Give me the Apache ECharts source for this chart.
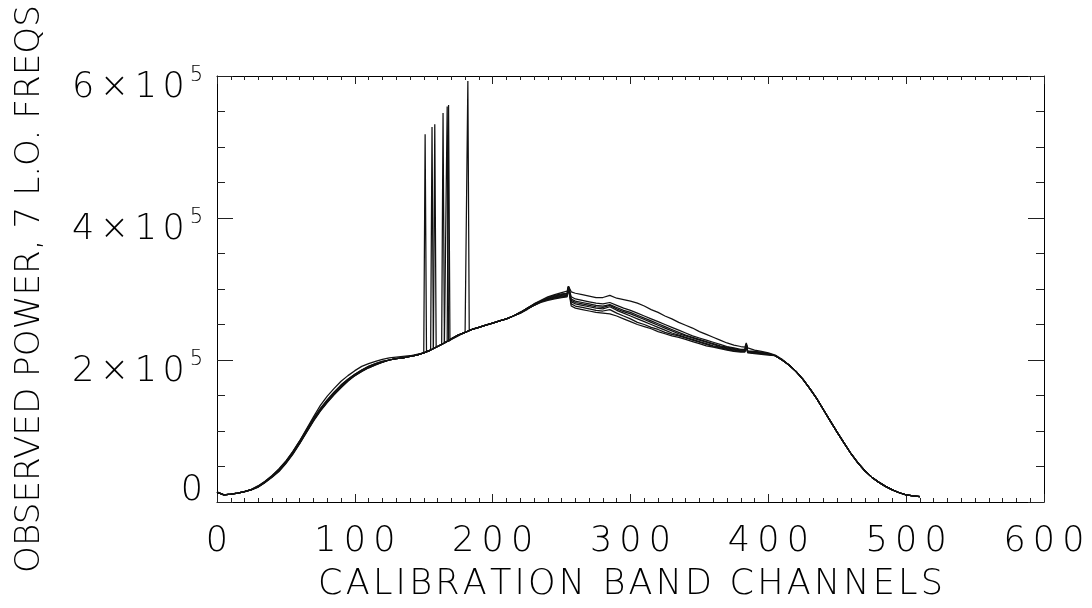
<!DOCTYPE html>
<html>
<head>
<meta charset="utf-8">
<script src="https://cdn.jsdelivr.net/npm/echarts@6/dist/echarts.min.js"></script>
<style>
  html, body { margin: 0; padding: 0; background: #fff; }
  #chart { width: 1092px; height: 608px; }
</style>
</head>
<body>
<div id="chart"></div>
<script>
// Calibration band: observed power (thousands) sampled every 5 channels, 0..510,
// one curve per local-oscillator frequency.
const channels = Array.from({ length: 103 }, (_, i) => i * 5);

const powerA = [
  14, 10, 11, 12.5, 14.5, 18, 23, 29.5, 37.5, 47, 58, 71, 86,
  103, 120, 136, 149, 160, 170, 178, 185, 191, 195, 198, 201, 203, 204, 205, 206, 208,
  210, 214, 219, 224, 229, 234, 239, 243, 246, 249, 252, 255, 258, 262, 267, 273, 279, 284, 289, 292, 295,
  304, 294, 292, 290, 288, 288, 291, 287, 285, 283, 280, 276, 271, 267, 262, 258, 253, 249, 245, 240, 236, 232, 228, 224, 221, 219, 217, 214, 212, 210,
  207, 201, 193, 184, 173, 160, 146, 130, 114, 98, 83, 68, 55, 44, 35, 28, 22, 17, 13, 10, 8.5, 7.5
];
const powerB = [
  14, 10, 11, 12.5, 14.5, 17.5, 22, 28.5, 36.5, 45.5, 57, 70, 85,
  101, 117, 131, 143, 154, 164, 173, 180, 186, 191, 195, 198, 200, 202, 203, 205, 207,
  210, 214, 219, 224, 230, 235, 239, 243, 246, 249, 252, 255, 258, 262, 267, 273, 279, 283, 288, 291, 293,
  304, 286, 284, 282, 280, 279, 281, 277, 273, 270, 266, 262, 258, 254, 250, 246, 242, 238, 234, 231, 228, 225, 222, 219, 217, 215, 213, 212, 211, 209,
  206, 200, 193, 184, 173, 160, 146, 130, 114, 98, 83, 68, 55, 44, 35, 28, 22, 17, 13, 10, 8.5, 7.5
];
const powerC = [
  14, 10, 11, 12.5, 14.5, 17.5, 22, 28.5, 36, 45, 56, 69, 84,
  100, 116, 130, 142, 153, 163, 172, 179, 185, 190, 194, 197, 200, 202, 203, 205, 207,
  210, 214, 219, 224, 230, 235, 239, 243, 246, 249, 252, 255, 258, 262, 267, 273, 278, 283, 287, 290, 292,
  303, 283, 281, 279, 277, 276, 278, 274, 270, 267, 263, 259, 255, 251, 247, 243, 239, 235, 232, 229, 226, 223, 220, 218, 216, 214, 212, 211, 210, 209,
  206, 200, 193, 184, 173, 160, 146, 130, 114, 98, 83, 68, 55, 44, 35, 28, 22, 17, 13, 10, 8.5, 7.5
];
const powerD = [
  14, 10, 11, 12.5, 14.5, 17.5, 21.5, 28, 35.5, 44, 55, 68, 83,
  99, 115, 129, 141, 152, 162, 171, 178, 184, 189, 193, 197, 200, 202, 203, 205, 207,
  210, 214, 219, 224, 230, 235, 239, 243, 246, 249, 252, 255, 258, 262, 267, 272, 278, 282, 286, 289, 291,
  303, 281, 279, 277, 275, 274, 277, 272, 268, 265, 261, 257, 253, 249, 245, 241, 237, 234, 231, 228, 225, 222, 219, 217, 215, 213, 212, 211, 210, 209,
  206, 200, 193, 184, 173, 160, 146, 130, 114, 98, 83, 68, 55, 44, 35, 28, 22, 17, 13, 10, 8.5, 7.5
];
const powerE = [
  14, 10, 11, 12.5, 14.5, 17, 21, 27.5, 35, 43, 54, 67, 82,
  98, 114, 128, 140, 151, 161, 170, 178, 184, 189, 193, 197, 200, 202, 203, 205, 207,
  210, 214, 219, 224, 230, 235, 239, 243, 246, 249, 252, 255, 258, 262, 266, 272, 277, 282, 286, 288, 290,
  302, 279, 277, 275, 273, 272, 275, 270, 266, 262, 258, 254, 250, 246, 242, 238, 235, 232, 229, 226, 223, 220, 218, 216, 214, 212, 211, 210, 209, 208,
  206, 200, 193, 184, 173, 160, 146, 130, 114, 98, 83, 68, 55, 44, 35, 28, 22, 17, 13, 10, 8.5, 7.5
];
const powerF = [
  14, 10, 11, 12.5, 14.5, 17.5, 22.5, 29, 37, 46, 57, 71, 86,
  102, 118, 132, 144, 155, 165, 173, 180, 186, 191, 195, 198, 200, 202, 203, 205, 207,
  210, 214, 219, 224, 230, 235, 239, 243, 246, 249, 252, 255, 258, 262, 266, 272, 277, 282, 285, 287, 289,
  301, 276, 274, 272, 270, 269, 271, 266, 262, 258, 253, 250, 246, 243, 239, 236, 234, 231, 228, 225, 222, 219, 217, 215, 213, 212, 211, 210, 209, 208,
  206, 200, 193, 184, 173, 160, 146, 130, 114, 98, 83, 68, 55, 44, 35, 28, 22, 17, 13, 10, 8.5, 7.5
];
const powerG = [
  14, 10, 11, 12.5, 14.5, 17.5, 21.5, 28, 35.5, 44.5, 55, 68, 83,
  99, 115, 129, 141, 152, 162, 171, 179, 185, 190, 194, 197, 200, 202, 203, 205, 207,
  210, 214, 219, 224, 230, 235, 239, 243, 246, 249, 252, 255, 258, 262, 266, 271, 277, 281, 284, 286, 288,
  300, 273, 271, 269, 267, 266, 265, 262, 258, 254, 250, 247, 244, 240, 237, 234, 232, 229, 226, 223, 220, 218, 216, 214, 212, 211, 210, 209, 208, 207,
  206, 200, 193, 184, 173, 160, 146, 130, 114, 98, 83, 68, 55, 44, 35, 28, 22, 17, 13, 10, 8.5, 7.5
];

// Single-channel features between the 5-channel samples: [channel, power (thousands)].
const extraA = [[181, 240], [182, 593], [183, 242], [254, 297], [256, 304], [257, 296], [383, 218], [384, 224]];
const extraB = [[151, 518], [152, 212], [254, 294], [256, 304], [257, 289], [383, 215], [384, 223]];
const extraC = [[156, 528], [157, 216], [254, 293], [256, 303], [257, 286], [383, 214], [384, 222]];
const extraD = [[157, 216], [158, 532], [159, 218], [254, 292], [256, 303], [257, 284], [383, 213], [384, 222]];
const extraE = [[163, 222], [164, 548], [254, 291], [256, 302], [257, 282], [383, 212], [384, 221]];
const extraF = [[166, 225], [167, 557], [168, 226], [254, 290], [256, 301], [257, 279], [383, 212], [384, 221]];
const extraG = [[167, 226], [168, 559], [169, 228], [254, 289], [256, 300], [257, 276], [383, 211], [384, 220]];

const curves = [
  [powerA, extraA], [powerB, extraB], [powerC, extraC], [powerD, extraD],
  [powerE, extraE], [powerF, extraF], [powerG, extraG]
];

const xTicks = [0, 100, 200, 300, 400, 500, 600];
const yTicks = [0, 200000, 400000, 600000];
const xTitle = 'CALIBRATION BAND CHANNELS';
const yTitle = 'OBSERVED POWER, 7 L.O. FREQS';

function curvePoints(values, extras) {
  const pts = channels.map((c, i) => [c, values[i] * 1000]);
  extras.forEach(([c, v]) => pts.push([c, v * 1000]));
  pts.sort((a, b) => a[0] - b[0]);
  return pts;
}

// One rich-text token per character so the lettering can be spaced out wide.
function spaced(text, token) {
  return text.split('').map(ch => '{' + token + '|' + ch + '}').join('');
}

const FONT = 'DejaVu Sans';
const tickStyle = { color: '#222', width: 1 };
const glyph = { fontFamily: FONT, fontWeight: 200, color: '#000' };

const series = curves.map(([vals, ext], i) => ({
  name: 'LO ' + (i + 1),
  type: 'line',
  data: curvePoints(vals, ext),
  showSymbol: false,
  symbol: 'none',
  lineStyle: { color: '#111', width: 1.25, join: 'bevel' },
  silent: true,
  animation: false
}));

function xAxisDef(pos, withLabels) {
  return {
    type: 'value', position: pos, min: xTicks[0], max: xTicks[xTicks.length - 1], interval: 100,
    axisLine: { show: true, onZero: false, lineStyle: { color: '#000', width: 1 } },
    axisTick: { show: true, inside: true, length: 8, lineStyle: tickStyle },
    minorTick: { show: true, splitNumber: 10, length: 4, lineStyle: tickStyle },
    splitLine: { show: false },
    axisLabel: {
      show: withLabels, margin: 22,
      formatter: v => spaced(String(v), 'd'),
      rich: { d: Object.assign({ fontSize: 35, padding: [0, 3.6, 0, 3.6] }, glyph) }
    },
    name: withLabels ? spaced(xTitle, 't') : '',
    nameLocation: 'middle', nameGap: 65,
    nameTextStyle: Object.assign({
      fontSize: 35,
      rich: { t: Object.assign({ fontSize: 35, padding: [0, 1.6, 0, 1.6] }, glyph) }
    }, glyph)
  };
}

function yAxisDef(pos, withLabels) {
  return {
    type: 'value', position: pos, min: yTicks[0], max: yTicks[yTicks.length - 1], interval: 200000,
    axisLine: { show: true, onZero: false, lineStyle: { color: '#000', width: 1 } },
    axisTick: { show: true, inside: true, length: 16, lineStyle: tickStyle },
    minorTick: { show: true, splitNumber: 4, length: 8, lineStyle: tickStyle },
    splitLine: { show: false },
    axisLabel: {
      show: withLabels, margin: 14,
      formatter: v => v === 0 ? '{z|0}' : spaced((v / 100000) + '×10', 'n') + '{s|5}',
      rich: {
        z: Object.assign({ fontSize: 35, padding: [0, 0, 22, 0] }, glyph),
        n: Object.assign({ fontSize: 35, padding: [24, 2.8, 0, 2.8] }, glyph),
        s: Object.assign({ fontSize: 21, padding: [0, 0, 0, 2] }, glyph)
      }
    },
    name: withLabels ? yTitle : '',
    nameLocation: 'middle', nameRotate: 90, nameGap: 170,
    nameTextStyle: Object.assign({ fontSize: 34.2 }, glyph)
  };
}

const chart = echarts.init(document.getElementById('chart'), null, { renderer: 'canvas' });
chart.setOption({
  backgroundColor: '#fff',
  animation: false,
  grid: { left: 217, right: 48, top: 76, bottom: 106, containLabel: false, outerBoundsMode: 'none' },
  xAxis: [xAxisDef('bottom', true), xAxisDef('top', false)],
  yAxis: [yAxisDef('left', true), yAxisDef('right', false)],
  series: series
});
</script>
</body>
</html>
